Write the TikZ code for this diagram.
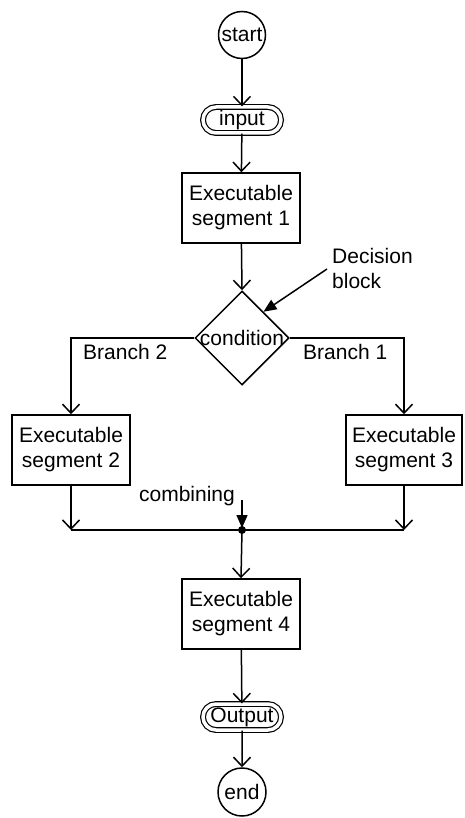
\documentclass[tikz,border=0pt]{standalone}
\usepackage{fontspec}
\setmainfont{Liberation Sans}
\usetikzlibrary{arrows.meta,shapes.geometric,shapes.misc,calc}
\begin{document}
\begin{tikzpicture}[x=1pt,y=-1pt,
  every node/.style={font=\fontsize{21}{25}\selectfont},
  line/.style={line width=1.5pt},
  flow/.style={line, -{Straight Barb[length=9pt,width=17pt,line width=1.5pt]}},
  solidarrow/.style={line, -{Triangle[length=13pt,width=11pt]}},
  terminal/.style={circle, draw, line width=1.5pt, minimum size=47pt, inner sep=0pt},
  iobox/.style={rounded rectangle, draw, line width=1.2pt, double, double distance=3.5pt,
    minimum width=78pt, minimum height=26pt, inner sep=0pt},
  segbox/.style={rectangle, draw, line width=1.5pt, minimum width=118pt, minimum height=70pt,
    align=center, inner sep=2pt},
  plain/.style={inner sep=0pt, align=left}
]
\useasboundingbox (0,0) rectangle (464,818);

% main column
\node[terminal] (start) at (242,35) {start};
\node[iobox] (input) at (242,120) {input};
\node[segbox] (seg1) at (241,208) {Executable\\segment 1};
\node[diamond, draw, line width=1.5pt, minimum width=94pt, minimum height=94pt, inner sep=0pt] (cond) at (242,338) {};
\node[inner sep=0pt] (condtext) at (cond.center) {condition};

% branches
\node[segbox] (seg2) at (71,450) {Executable\\segment 2};
\node[segbox, minimum width=116pt] (seg3) at (404,450) {Executable\\segment 3};

% merge point and lower column
\coordinate (merge) at (242,530);
\node[segbox] (seg4) at (241,614) {Executable\\segment 4};
\node[iobox] (output) at (242,717) {Output};
\node[terminal, minimum size=48pt] (stop) at (242,792) {end};

% labels
\node[plain, anchor=west] (br2) at (83,352) {Branch 2};
\node[plain, anchor=west] (br1) at (303,352) {Branch 1};
\node[plain, anchor=west] (decision) at (332,268) {Decision\\block};
\node[plain, anchor=east] (comb) at (235,496) {combining};
\coordinate (combtop) at (242,500);
\coordinate (decisiontail) at (327,269);

% flow connectors
\draw[flow] (start) -- (input);
\draw[flow] (input) -- (seg1);
\draw[flow] (seg1) -- (cond.north);
\draw[flow] (cond.west) -| (seg2.north);
\draw[flow] (cond.east) -| (seg3.north);
\draw[flow] (seg2.south) -- (seg2.south |- merge);
\draw[flow] (seg3.south) -- (seg3.south |- merge);
\draw[line] (seg2.south |- merge) -- (seg3.south |- merge);
\draw[flow] (merge) -- (seg4.north);
\draw[flow] (seg4) -- (output);
\draw[flow] (output) -- (stop);

% annotation arrows
\draw[solidarrow] (decisiontail) -- ($(cond.north)!0.45!(cond.east)$);
\draw[solidarrow] (combtop) -- ($(merge)+(0,-2)$);
\fill (merge) circle (4pt);
\end{tikzpicture}
\end{document}
